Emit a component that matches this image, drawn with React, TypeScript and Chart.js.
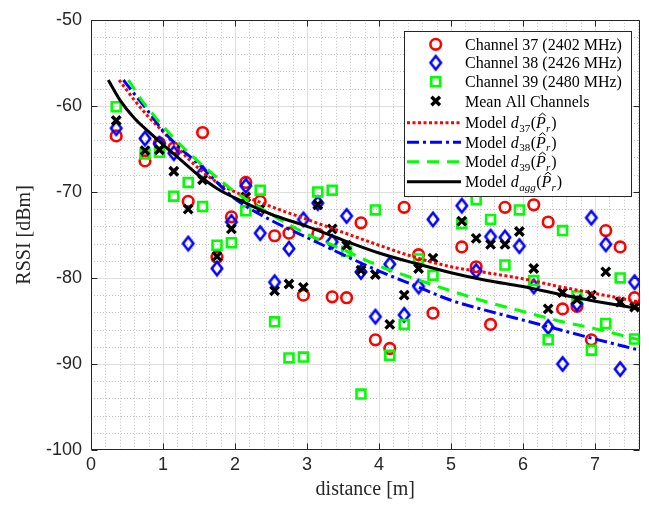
import React, { useEffect, useRef } from 'react';
import { Chart, registerables } from 'chart.js';

Chart.register(...registerables);

// ---------- data ----------
const distances = [0.35, 0.75, 0.95, 1.15, 1.35, 1.55, 1.75, 1.95, 2.15, 2.35, 2.55, 2.75, 2.95, 3.15, 3.35, 3.55, 3.75, 3.95, 4.15, 4.35, 4.55, 4.75, 5.15, 5.35, 5.55, 5.75, 5.95, 6.15, 6.35, 6.55, 6.75, 6.95, 7.15, 7.35, 7.55];

const rssiCh37 = [-63.5, -66.4, -64.3, -64.9, -71.1, -63.1, -77.6, -72.9, -68.9, -71.1, -75.1, -74.8, -82.0, -74.9, -82.2, -82.3, -73.6, -87.2, -88.2, -71.8, -77.3, -84.1, -76.4, -78.7, -85.4, -71.8, -68.0, -71.5, -73.5, -83.6, -83.3, -87.2, -74.5, -76.4, -82.3];
const rssiCh38 = [-62.6, -63.8, -64.4, -65.5, -76.0, -67.8, -78.9, -73.5, -69.3, -74.8, -80.5, -76.6, -73.2, -71.3, -75.8, -72.8, -79.3, -84.5, -78.4, -84.3, -81.0, -73.2, -71.6, -79.2, -75.2, -75.3, -76.3, -81.0, -85.7, -90.0, -83.0, -73.0, -76.1, -90.6, -80.5];
const rssiCh39 = [-60.1, -65.6, -65.4, -70.5, -68.9, -71.7, -76.2, -75.9, -72.2, -69.8, -85.1, -89.3, -89.2, -70.0, -69.8, -76.9, -93.5, -72.1, -89.0, -85.4, -77.8, -79.7, -73.7, -70.9, -73.2, -78.5, -72.1, -80.3, -87.2, -74.5, -82.1, -88.4, -85.3, -80.0, -87.1];
const rssiMean = [-61.7, -65.2, -65.1, -67.6, -72.0, -68.6, -77.5, -74.3, -70.6, -72.0, -81.5, -80.7, -81.1, -71.5, -74.3, -76.2, -79.1, -79.6, -85.4, -82.0, -78.9, -77.7, -73.4, -75.4, -76.1, -76.1, -74.6, -78.9, -83.6, -81.7, -82.5, -82.0, -79.3, -82.8, -83.4];

const model37Dist = [0.39, 0.5, 0.6, 0.8, 1.0, 1.25, 1.5, 1.75, 2.0, 2.5, 3.0, 3.5, 4.0, 4.5, 5.0, 5.5, 6.0, 6.5, 7.0, 7.62];
const model37Rssi = [-57.0, -58.2, -59.3, -61.3, -63.0, -65.3, -67.3, -68.9, -70.0, -71.7, -73.2, -74.7, -76.2, -77.6, -78.7, -79.4, -80.1, -81.0, -81.8, -82.8];
const model38Dist = [0.45, 0.6, 0.8, 1.0, 1.25, 1.5, 1.75, 2.0, 2.5, 3.0, 3.5, 4.0, 4.5, 5.0, 5.5, 6.0, 6.5, 7.0, 7.62];
const model38Rssi = [-57.0, -58.6, -60.7, -62.9, -65.0, -66.8, -68.9, -70.8, -73.3, -75.3, -77.3, -79.2, -80.9, -82.6, -83.8, -84.9, -86.0, -87.1, -88.4];
const model39Dist = [0.52, 0.7, 0.9, 1.1, 1.4, 1.7, 2.0, 2.5, 3.0, 3.5, 4.0, 4.5, 5.0, 5.5, 6.0, 6.5, 7.0, 7.62];
const model39Rssi = [-57.0, -59.3, -61.4, -63.3, -65.8, -68.0, -70.0, -72.6, -74.9, -76.7, -78.6, -80.1, -81.5, -82.8, -83.9, -85.0, -85.9, -87.2];
const modelAggDist = [0.24, 0.4, 0.6, 0.8, 1.0, 1.25, 1.5, 1.75, 2.0, 2.5, 3.0, 3.5, 4.0, 4.5, 5.0, 5.5, 6.0, 6.5, 7.0, 7.62];
const modelAggRssi = [-57.0, -59.3, -61.4, -63.0, -64.5, -66.3, -68.1, -69.6, -70.7, -72.6, -74.0, -75.6, -77.1, -78.3, -79.4, -80.3, -81.0, -81.9, -82.7, -83.6];

const xTickValues = [0, 1, 2, 3, 4, 5, 6, 7];
const yTickValues = [-100, -90, -80, -70, -60, -50];
const channelLabels = ['Channel 37 (2402 MHz)', 'Channel 38 (2426 MHz)', 'Channel 39 (2480 MHz)', 'Mean All Channels'];
const modelSubscripts = ['37', '38', '39', 'agg'];

const X_MIN = 0;
const X_MAX = 7.62;
const Y_MIN = -100;
const Y_MAX = -50;
const X_MINOR = 0.2;
const Y_MINOR = 2;

const RED = '#ff0000';
const BLUE = '#0000ff';
const GREEN = '#00ff00';
const BLACK = '#000000';
const AXIS = '#262626';

const CIRCLE_R = 5.3;
const SQUARE_R = 6.3;
const CROSS_R = 6;

const pts = (xs: number[], ys: number[]) => xs.map((x, i) => ({ x, y: ys[i] }));

function makeDiamond(color: string): HTMLCanvasElement {
  const c = document.createElement('canvas');
  c.width = 16;
  c.height = 20;
  const g = c.getContext('2d')!;
  g.strokeStyle = color;
  g.lineWidth = 2.6;
  g.beginPath();
  g.moveTo(8, 3.3);
  g.lineTo(13.2, 10);
  g.lineTo(8, 16.7);
  g.lineTo(2.8, 10);
  g.closePath();
  g.stroke();
  return c;
}

const SERIF = '"Liberation Serif", "Times New Roman", serif';
const SANS = '"Liberation Sans", Arial, sans-serif';

export default function App() {
  const ref = useRef<HTMLCanvasElement>(null);

  useEffect(() => {
    const canvas = ref.current;
    if (!canvas) return;
    const diamond = makeDiamond(BLUE);

    const gridPlugin = {
      id: 'matlabGrid',
      beforeDatasetsDraw(chart: any) {
        const { ctx, chartArea: a, scales } = chart;
        const xs = scales.x;
        const ys = scales.y;
        ctx.save();
        ctx.lineWidth = 1;
        // minor grid
        ctx.strokeStyle = '#c2c2c2';
        ctx.setLineDash([1, 2]);
        ctx.beginPath();
        for (let i = 1; i * X_MINOR <= X_MAX + 1e-9; i++) {
          const v = i * X_MINOR;
          if (Math.abs(v - Math.round(v)) < 1e-6) continue;
          const px = Math.round(xs.getPixelForValue(v)) + 0.5;
          ctx.moveTo(px, a.top);
          ctx.lineTo(px, a.bottom);
        }
        for (let i = 1; Y_MIN + i * Y_MINOR < Y_MAX; i++) {
          const v = Y_MIN + i * Y_MINOR;
          if (v % 10 === 0) continue;
          const py = Math.round(ys.getPixelForValue(v)) + 0.5;
          ctx.moveTo(a.left, py);
          ctx.lineTo(a.right, py);
        }
        ctx.stroke();
        // major grid
        ctx.setLineDash([]);
        ctx.strokeStyle = '#dedede';
        ctx.beginPath();
        xTickValues.forEach((v) => {
          if (v === X_MIN) return;
          const px = Math.round(xs.getPixelForValue(v)) + 0.5;
          ctx.moveTo(px, a.top);
          ctx.lineTo(px, a.bottom);
        });
        yTickValues.forEach((v) => {
          if (v === Y_MIN || v === Y_MAX) return;
          const py = Math.round(ys.getPixelForValue(v)) + 0.5;
          ctx.moveTo(a.left, py);
          ctx.lineTo(a.right, py);
        });
        ctx.stroke();
        // box
        const L = Math.round(a.left) + 0.5;
        const R = Math.round(a.right) - 0.5;
        const T = Math.round(a.top) + 0.5;
        const B = Math.round(a.bottom) - 0.5;
        ctx.strokeStyle = AXIS;
        ctx.beginPath();
        ctx.rect(L, T, R - L, B - T);
        // inward ticks
        const tl = 6;
        xTickValues.forEach((v) => {
          const px = Math.round(xs.getPixelForValue(v)) + 0.5;
          ctx.moveTo(px, B);
          ctx.lineTo(px, B - tl);
          ctx.moveTo(px, T);
          ctx.lineTo(px, T + tl);
        });
        yTickValues.forEach((v) => {
          const py = Math.round(ys.getPixelForValue(v)) + 0.5;
          ctx.moveTo(L, py);
          ctx.lineTo(L + tl, py);
          ctx.moveTo(R, py);
          ctx.lineTo(R - tl, py);
        });
        ctx.stroke();
        ctx.restore();
      },
    };

    const drawMarker = (ctx: CanvasRenderingContext2D, kind: number, x: number, y: number) => {
      ctx.save();
      ctx.setLineDash([]);
      if (kind === 0) {
        ctx.strokeStyle = RED;
        ctx.lineWidth = 2.6;
        ctx.beginPath();
        ctx.arc(x, y, CIRCLE_R, 0, Math.PI * 2);
        ctx.stroke();
      } else if (kind === 1) {
        ctx.drawImage(diamond, x - 8, y - 10);
      } else if (kind === 2) {
        const h = SQUARE_R * Math.SQRT1_2;
        ctx.strokeStyle = GREEN;
        ctx.lineWidth = 2.6;
        ctx.strokeRect(x - h, y - h, 2 * h, 2 * h);
      } else {
        const h = CROSS_R * Math.SQRT1_2;
        ctx.strokeStyle = BLACK;
        ctx.lineWidth = 3.4;
        ctx.beginPath();
        ctx.moveTo(x - h, y - h);
        ctx.lineTo(x + h, y + h);
        ctx.moveTo(x + h, y - h);
        ctx.lineTo(x - h, y + h);
        ctx.stroke();
      }
      ctx.restore();
    };

    const lineStyles = [
      { color: RED, dash: [3, 2.5], width: 3 },
      { color: BLUE, dash: [12, 4, 3, 4], width: 3 },
      { color: GREEN, dash: [12, 8], width: 3 },
      { color: BLACK, dash: [], width: 3 },
    ];

    const legendPlugin = {
      id: 'matlabLegend',
      afterDraw(chart: any) {
        const { ctx, chartArea: a } = chart;
        const w = 227;
        const h = 165;
        const left = Math.round(a.right) - 9 - w;
        const top = Math.round(a.top) + 11;
        ctx.save();
        ctx.fillStyle = '#ffffff';
        ctx.fillRect(left, top, w, h);
        ctx.strokeStyle = AXIS;
        ctx.lineWidth = 1;
        ctx.strokeRect(left + 0.5, top + 0.5, w, h);
        const rows = [13.3, 31.7, 50.7, 70, 91.7, 111.3, 130.7, 150.7];
        const textX = left + 61;
        ctx.fillStyle = '#000000';
        ctx.textBaseline = 'alphabetic';
        ctx.textAlign = 'left';
        for (let i = 0; i < 4; i++) {
          const cy = top + rows[i];
          drawMarker(ctx, i, left + 31.7, cy);
          ctx.font = `16px ${SERIF}`;
          ctx.fillStyle = '#000';
          ctx.fillText(channelLabels[i], textX, cy + 5.5);
        }
        for (let i = 0; i < 4; i++) {
          const cy = top + rows[4 + i];
          const st = lineStyles[i];
          ctx.save();
          ctx.strokeStyle = st.color;
          ctx.lineWidth = st.width;
          ctx.setLineDash(st.dash);
          ctx.beginPath();
          ctx.moveTo(left + 3, cy);
          ctx.lineTo(left + 57, cy);
          ctx.stroke();
          ctx.restore();
          const base = cy + 5.5;
          let x = textX;
          ctx.fillStyle = '#000';
          ctx.font = `16px ${SERIF}`;
          ctx.fillText('Model ', x, base);
          x += ctx.measureText('Model ').width;
          ctx.font = `italic 16px ${SERIF}`;
          ctx.fillText('d', x, base);
          x += ctx.measureText('d').width;
          const sub = modelSubscripts[i];
          ctx.font = sub === 'agg' ? `italic 11px ${SERIF}` : `11px ${SERIF}`;
          ctx.fillText(sub, x + 0.5, base + 3.5);
          x += ctx.measureText(sub).width + 1;
          ctx.font = `16px ${SERIF}`;
          ctx.fillText('(', x, base);
          x += ctx.measureText('(').width;
          ctx.font = `italic 16px ${SERIF}`;
          const pw = ctx.measureText('P').width;
          ctx.fillText('P', x, base);
          // hat
          ctx.save();
          ctx.strokeStyle = '#000';
          ctx.lineWidth = 1;
          ctx.beginPath();
          const hx = x + pw / 2 + 1.5;
          const hy = base - 15;
          ctx.moveTo(hx - 3.2, hy + 2.6);
          ctx.lineTo(hx, hy);
          ctx.lineTo(hx + 3.2, hy + 2.6);
          ctx.stroke();
          ctx.restore();
          x += pw;
          ctx.font = `italic 11px ${SERIF}`;
          ctx.fillText('r', x, base + 3.5);
          x += ctx.measureText('r').width + 1;
          ctx.font = `16px ${SERIF}`;
          ctx.fillText(')', x, base);
        }
        ctx.restore();
      },
    };

    const chart = new Chart(canvas, {
      type: 'scatter',
      data: {
        datasets: [
          {
            type: 'line',
            label: 'Model d_agg',
            data: pts(modelAggDist, modelAggRssi),
            borderColor: BLACK,
            borderWidth: 3,
            pointRadius: 0,
            cubicInterpolationMode: 'monotone',
            order: 1,
          },
          {
            type: 'line',
            label: 'Model d39',
            data: pts(model39Dist, model39Rssi),
            borderColor: GREEN,
            borderWidth: 3,
            borderDash: [12, 8],
            pointRadius: 0,
            cubicInterpolationMode: 'monotone',
            order: 2,
          },
          {
            type: 'line',
            label: 'Model d38',
            data: pts(model38Dist, model38Rssi),
            borderColor: BLUE,
            borderWidth: 3,
            borderDash: [12, 4, 3, 4],
            pointRadius: 0,
            cubicInterpolationMode: 'monotone',
            order: 3,
          },
          {
            type: 'line',
            label: 'Model d37',
            data: pts(model37Dist, model37Rssi),
            borderColor: RED,
            borderWidth: 3,
            borderDash: [3, 2.5],
            pointRadius: 0,
            cubicInterpolationMode: 'monotone',
            order: 4,
          },
          {
            type: 'scatter',
            label: channelLabels[3],
            data: pts(distances, rssiMean),
            pointStyle: 'crossRot',
            pointRadius: CROSS_R,
            borderWidth: 3.4,
            borderColor: BLACK,
            backgroundColor: 'rgba(0,0,0,0)',
            order: 5,
          },
          {
            type: 'scatter',
            label: channelLabels[2],
            data: pts(distances, rssiCh39),
            pointStyle: 'rect',
            pointRadius: SQUARE_R,
            borderWidth: 2.6,
            borderColor: GREEN,
            backgroundColor: 'rgba(0,0,0,0)',
            order: 6,
          },
          {
            type: 'scatter',
            label: channelLabels[1],
            data: pts(distances, rssiCh38),
            pointStyle: diamond,
            pointRadius: 8,
            borderColor: BLUE,
            backgroundColor: 'rgba(0,0,0,0)',
            order: 7,
          },
          {
            type: 'scatter',
            label: channelLabels[0],
            data: pts(distances, rssiCh37),
            pointStyle: 'circle',
            pointRadius: CIRCLE_R,
            borderWidth: 2.6,
            borderColor: RED,
            backgroundColor: 'rgba(0,0,0,0)',
            order: 8,
          },
        ] as any,
      },
      options: {
        responsive: false,
        devicePixelRatio: 1,
        animation: false,
        events: [],
        layout: { padding: { left: 0, right: 8, top: 15, bottom: 0 } },
        plugins: {
          legend: { display: false },
          tooltip: { enabled: false },
        },
        scales: {
          x: {
            type: 'linear',
            position: 'bottom',
            min: X_MIN,
            max: X_MAX,
            afterBuildTicks: (s: any) => {
              s.ticks = xTickValues.map((value) => ({ value }));
            },
            afterFit: (s: any) => {
              s.height = 58;
            },
            grid: { display: false, drawTicks: false },
            border: { display: false },
            ticks: {
              autoSkip: false,
              maxRotation: 0,
              padding: 4,
              color: AXIS,
              font: { family: SANS, size: 18 },
              callback: (v: any) => String(v),
            },
            title: {
              display: true,
              text: 'distance [m]',
              color: AXIS,
              font: { family: SERIF, size: 20 },
              padding: { top: 0, bottom: 6 },
            },
          },
          y: {
            type: 'linear',
            position: 'left',
            min: Y_MIN,
            max: Y_MAX,
            afterBuildTicks: (s: any) => {
              s.ticks = yTickValues.map((value) => ({ value }));
            },
            afterFit: (s: any) => {
              s.width = 91;
            },
            grid: { display: false, drawTicks: false },
            border: { display: false },
            ticks: {
              autoSkip: false,
              padding: 9,
              color: AXIS,
              font: { family: SANS, size: 18 },
              callback: (v: any) => String(v),
            },
            title: {
              display: true,
              text: 'RSSI [dBm]',
              color: AXIS,
              font: { family: SERIF, size: 20 },
              padding: { top: 13, bottom: 0 },
            },
          },
        },
      } as any,
      plugins: [gridPlugin, legendPlugin],
    });
    return () => chart.destroy();
  }, []);

  return (
    <div style={{ position: 'absolute', left: 0, top: 0, width: 649, height: 508, background: '#fff' }}>
      <canvas ref={ref} width={649} height={508} style={{ display: 'block', width: 649, height: 508 }} />
    </div>
  );
}
